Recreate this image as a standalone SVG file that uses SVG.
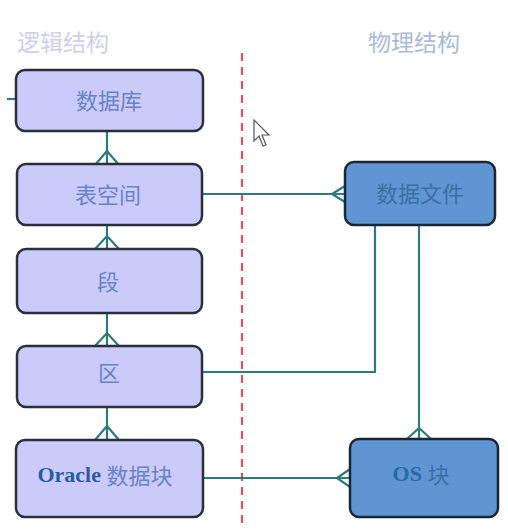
<svg xmlns="http://www.w3.org/2000/svg" width="508" height="530" viewBox="0 0 508 530">
<style>
.title{font-family:"Noto Sans CJK SC","Noto Sans",sans-serif;font-size:23px}
.lbox{fill:#cbcbfb;stroke:#2b2f3a;stroke-width:2.5}
.pbox{fill:#5e95d2;stroke:#1c2634;stroke-width:2.5}
.ltxt{font-family:"Noto Sans CJK SC","Noto Sans",sans-serif;font-size:22px;fill:#6a82c6;text-anchor:middle;dominant-baseline:central}
.ptxt{font-family:"Noto Sans CJK SC","Noto Sans",sans-serif;font-size:22px;fill:#3c6ea6;text-anchor:middle;dominant-baseline:central}
.conn{fill:none;stroke:#2d7b7b;stroke-width:2.2}
</style>
<rect width="508" height="530" fill="#ffffff"/>
<text class="title" x="17" y="51" fill="#cfcfec">逻辑结构</text>
<text class="title" x="368" y="51" fill="#aabbd6">物理结构</text>
<line x1="242" y1="53" x2="242" y2="526" stroke="#e0505a" stroke-width="2.2" stroke-dasharray="8,6"/>
<g id="connectors">
<path class="conn" d="M7,99 H16"/>
<path class="conn" d="M107,131 V164 M95,165 L107,151 L119,165"/>
<path class="conn" d="M107,225 V249 M95,249 L107,236 L119,249"/>
<path class="conn" d="M107,313 V346 M95,346 L107,333 L119,346"/>
<path class="conn" d="M107,407 V440 M95,440 L107,426 L119,440"/>
<path class="conn" d="M202,194 H345 M345,186 L332,194 L345,202"/>
<path class="conn" d="M202,372 H375 V225"/>
<path class="conn" d="M419,225 V439 M407,439 L419,428 L431,439"/>
<path class="conn" d="M203,478 H350 M350,469 L337,478 L350,487"/>
</g>
<g id="n-db"><rect class="lbox" x="16" y="70" width="187" height="61" rx="9"/><text class="ltxt" x="109" y="99">数据库</text></g>
<g id="n-ts"><rect class="lbox" x="17" y="164" width="185" height="61" rx="9"/><text class="ltxt" x="108" y="193">表空间</text></g>
<g id="n-seg"><rect class="lbox" x="17" y="249" width="185" height="64" rx="9"/><text class="ltxt" x="108" y="280">段</text></g>
<g id="n-ext"><rect class="lbox" x="17" y="346" width="185" height="61" rx="9"/><text class="ltxt" x="109" y="371">区</text></g>
<g id="n-blk"><rect class="lbox" x="16" y="440" width="187" height="77" rx="9"/><text x="105" y="474" style="font-size:22px;text-anchor:middle;dominant-baseline:central"><tspan style="font-family:'Liberation Serif',serif;font-weight:bold;fill:#2a5d9c">Oracle </tspan><tspan style="font-family:'Noto Sans CJK SC',sans-serif;fill:#6a82c6">数据块</tspan></text></g>
<g id="n-file"><rect class="pbox" x="345" y="162" width="150" height="63" rx="9"/><text class="ptxt" x="420" y="192">数据文件</text></g>
<g id="n-os"><rect class="pbox" x="350" y="439" width="148" height="78" rx="9"/><text x="421" y="473" style="font-size:22px;text-anchor:middle;dominant-baseline:central"><tspan style="font-family:'Liberation Serif',serif;font-weight:bold;fill:#2a68a8">OS </tspan><tspan style="font-family:'Noto Sans CJK SC',sans-serif;fill:#3c6ea6">块</tspan></text></g>
<path d="M254,120 L254,141 L259,136 L263,146 L266,145 L262,135 L269,135 Z" fill="#ffffff" stroke="#555" stroke-width="1.2"/>
</svg>
